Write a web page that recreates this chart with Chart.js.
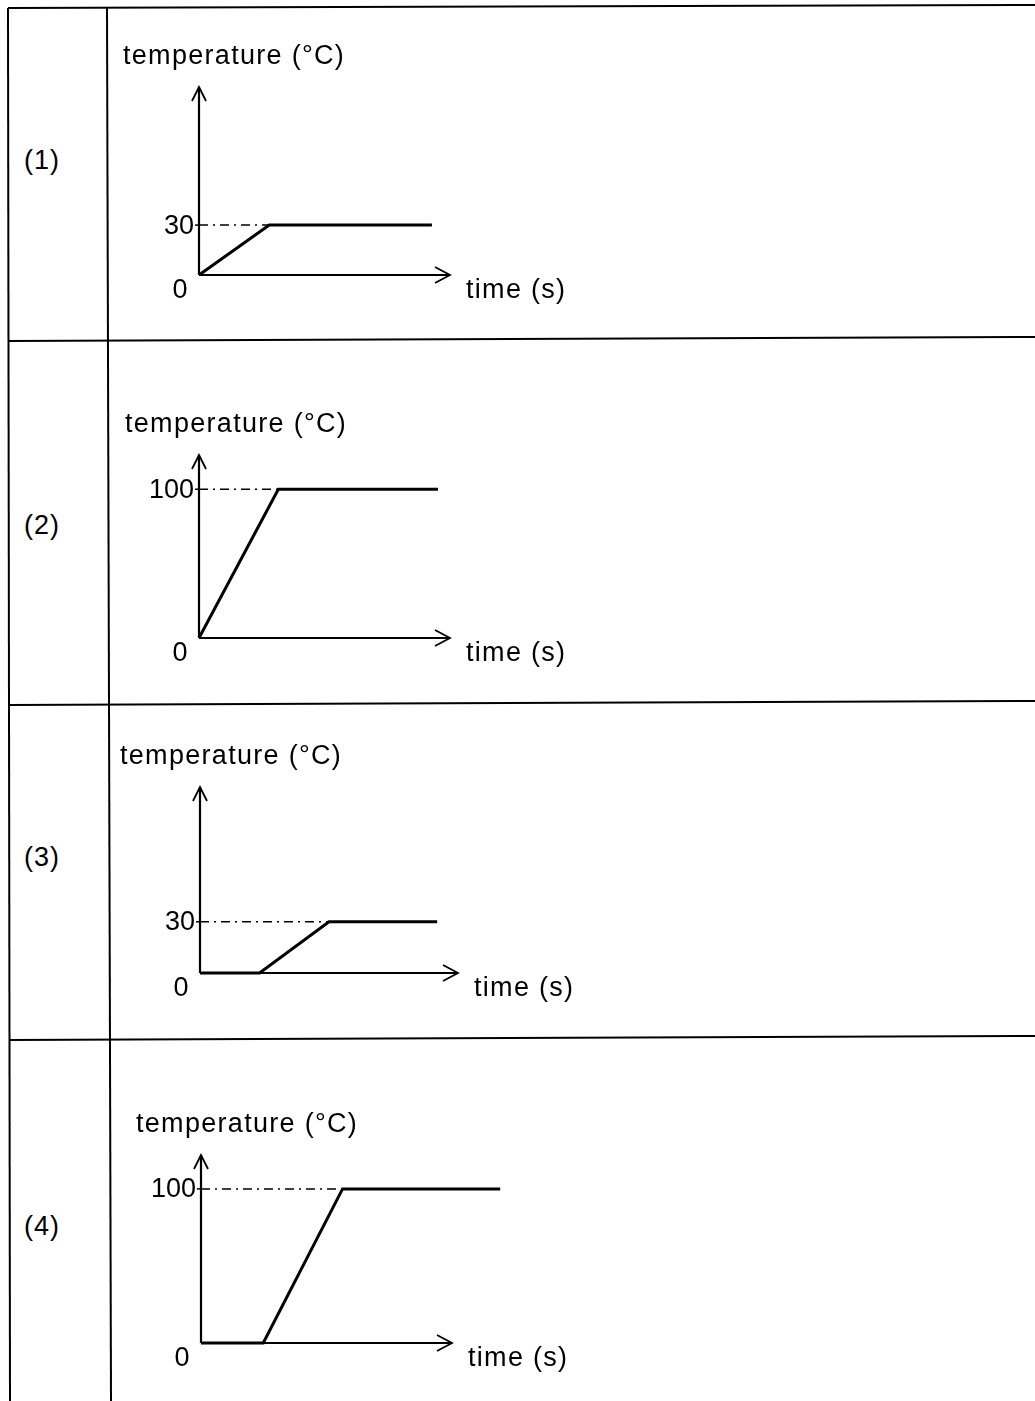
<!DOCTYPE html>
<html>
<head>
<meta charset="utf-8">
<title>temperature vs time</title>
<script src="https://cdn.jsdelivr.net/npm/chart.js@4.4.0/dist/chart.umd.min.js"></script>
<style>
  html, body { margin: 0; padding: 0; background: #fff; }
  body {
    width: 1035px; height: 1401px; position: relative; overflow: hidden;
    font-family: "Liberation Sans", Arial, sans-serif; color: #000;
  }
  #frame { position: absolute; left: 0; top: 0; }
  .cell-label {
    position: absolute; left: 24px; font-size: 27px; line-height: 1;
    letter-spacing: 1px; transform: translateY(-50%);
  }
  canvas { position: absolute; }
</style>
</head>
<body>

<svg id="frame" width="1035" height="1401">
  <g stroke="#000" stroke-width="2" fill="none">
    <line x1="8" y1="8" x2="1035" y2="5" />
    <line x1="8" y1="8" x2="10" y2="1401" />
    <line x1="107" y1="8" x2="111" y2="1401" />
    <line x1="8" y1="341" x2="1035" y2="337" />
    <line x1="8" y1="705" x2="1035" y2="701" />
    <line x1="9" y1="1040" x2="1035" y2="1036" />
  </g>
</svg>

<script>
  // ---- data ----
  const panelLabels = ['(1)', '(2)', '(3)', '(4)'];
  const yAxisTitle = 'temperature (°C)';
  const xAxisTitle = 'time (s)';
  const originLabel = '0';

  // plateau temperature shown on each y axis
  const plateauTemps = [30, 100, 30, 100];

  // graph (1)
  const times1 = [0, 7, 23.2];
  const temps1 = [0, 30, 30];
  // graph (2)
  const times2 = [0, 7.9, 23.8];
  const temps2 = [0, 100, 100];
  // graph (3)
  const times3 = [0, 6, 13, 23.9];
  const temps3 = [0, 0, 30, 30];
  // graph (4)
  const times4 = [0, 6.2, 14.1, 29.8];
  const temps4 = [0, 0, 100, 100];

  const allTimes = [times1, times2, times3, times4];
  const allTemps = [temps1, temps2, temps3, temps4];

  // where the axis arrows end
  const timeAxisMax = [25, 25, 26, 25];
  const tempAxisMax = [113, 123, 109, 122];

  // ---- layout (page pixels) ----
  const CANVAS_LEFT = 112;
  const CANVAS_WIDTH = 480;
  const panels = [
    { top: 9,    bottom: 338,  originX: 199, axisY: 275,  tipX: 450, tipY: 87,   titleX: 123, labelY: 160 },
    { top: 341,  bottom: 702,  originX: 199, axisY: 638,  tipX: 450, tipY: 455,  titleX: 125, labelY: 525 },
    { top: 705,  bottom: 1037, originX: 200, axisY: 973,  tipX: 458, tipY: 787,  titleX: 120, labelY: 857 },
    { top: 1040, bottom: 1401, originX: 201, axisY: 1343, tipX: 452, tipY: 1155, titleX: 136, labelY: 1226 },
  ];

  const FONT = '27px "Liberation Sans", Arial, sans-serif';

  /**
   * Draws the schematic axes, arrowheads, dash-dot guide and labels
   */
  const schematicAxes = {
    id: 'schematicAxes',
    beforeDatasetsDraw(chart, args, opts) {
      const { ctx } = chart;
      const xs = chart.scales.x;
      const ys = chart.scales.y;

      const x0 = xs.getPixelForValue(0);
      const y0 = ys.getPixelForValue(0);
      const xEnd = xs.getPixelForValue(opts.xMax);
      const yEnd = ys.getPixelForValue(opts.yMax);
      const yLevel = ys.getPixelForValue(opts.level);
      const xLevel = xs.getPixelForValue(opts.levelAt);

      ctx.save();
      ctx.strokeStyle = '#000';
      ctx.lineCap = 'butt';

      // axes
      ctx.lineWidth = 2.2;
      ctx.beginPath();
      ctx.moveTo(x0, y0);
      ctx.lineTo(x0, yEnd);
      ctx.moveTo(x0, y0);
      ctx.lineTo(xEnd, y0);
      ctx.stroke();

      // open arrowheads
      ctx.lineWidth = 1.8;
      ctx.beginPath();
      ctx.moveTo(x0 - 7, yEnd + 14);
      ctx.lineTo(x0, yEnd);
      ctx.lineTo(x0 + 7, yEnd + 14);
      ctx.moveTo(xEnd - 15, y0 - 8);
      ctx.lineTo(xEnd, y0);
      ctx.lineTo(xEnd - 15, y0 + 8);
      ctx.stroke();

      // dash-dot guide to the plateau
      ctx.lineWidth = 1.5;
      ctx.setLineDash([9, 5, 2, 5]);
      ctx.beginPath();
      ctx.moveTo(x0, yLevel);
      ctx.lineTo(xLevel, yLevel);
      ctx.stroke();
      ctx.setLineDash([]);

      // small tick at the level
      ctx.beginPath();
      ctx.moveTo(x0 - 4, yLevel);
      ctx.lineTo(x0, yLevel);
      ctx.stroke();

      // texts
      ctx.fillStyle = '#000';
      ctx.font = FONT;
      ctx.textBaseline = 'middle';

      ctx.letterSpacing = '0px';
      ctx.textAlign = 'right';
      ctx.fillText(String(opts.level), x0 - 5, yLevel + 1);

      ctx.textAlign = 'center';
      ctx.fillText(originLabel, x0 - 19, y0 + 16);

      ctx.letterSpacing = '1.3px';
      ctx.textAlign = 'left';
      ctx.fillText(xAxisTitle, xEnd + 16, y0 + 16);
      ctx.fillText(yAxisTitle, opts.titleLeft, yEnd - 30);

      ctx.restore();
    },
  };

  panels.forEach((p, i) => {
    // cell label
    const label = document.createElement('div');
    label.className = 'cell-label';
    label.style.top = p.labelY + 'px';
    label.textContent = panelLabels[i];
    document.body.appendChild(label);

    // canvas
    const height = p.bottom - p.top;
    const canvas = document.createElement('canvas');
    canvas.width = CANVAS_WIDTH;
    canvas.height = height;
    canvas.style.left = CANVAS_LEFT + 'px';
    canvas.style.top = p.top + 'px';
    document.body.appendChild(canvas);

    const times = allTimes[i];
    const temps = allTemps[i];
    const points = times.map((t, k) => ({ x: t, y: temps[k] }));
    const levelAt = times[temps.indexOf(plateauTemps[i])];

    new Chart(canvas.getContext('2d'), {
      type: 'line',
      data: {
        datasets: [
          {
            data: points,
            borderColor: '#000',
            borderWidth: 3,
            pointRadius: 0,
            tension: 0,
            fill: false,
            clip: false,
            borderJoinStyle: 'miter',
          },
        ],
      },
      options: {
        responsive: false,
        animation: false,
        devicePixelRatio: 1,
        layout: {
          padding: {
            left: p.originX - CANVAS_LEFT,
            right: CANVAS_WIDTH - (p.tipX - CANVAS_LEFT),
            top: p.tipY - p.top,
            bottom: height - (p.axisY - p.top),
          },
        },
        scales: {
          x: { type: 'linear', min: 0, max: timeAxisMax[i], display: false },
          y: { type: 'linear', min: 0, max: tempAxisMax[i], display: false },
        },
        plugins: {
          legend: { display: false },
          tooltip: { enabled: false },
          schematicAxes: {
            xMax: timeAxisMax[i],
            yMax: tempAxisMax[i],
            level: plateauTemps[i],
            levelAt: levelAt,
            titleLeft: p.titleX - CANVAS_LEFT,
          },
        },
      },
      plugins: [schematicAxes],
    });
  });
</script>
</body>
</html>
